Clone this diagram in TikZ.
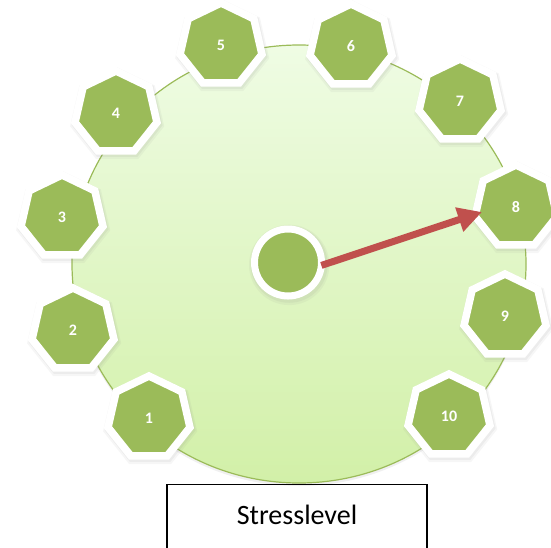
\documentclass[tikz,border=0pt]{standalone}
\usepackage{fontspec}
\setmainfont{Carlito}
\usetikzlibrary{shapes.geometric,arrows.meta,shadows}
\definecolor{hgreen}{HTML}{9BBB59}
\definecolor{arrred}{HTML}{C0504D}
\definecolor{bgtop}{HTML}{EFFCE4}
\definecolor{bgbot}{HTML}{D2F0A8}
\begin{document}
\begin{tikzpicture}[x=1pt,y=-1pt,
  hepta/.style={regular polygon, regular polygon sides=7, minimum size=84pt,
    inner sep=0pt, outer sep=0pt, fill=hgreen, draw=white, line width=7.5pt, text=white,
    font=\fontsize{16}{16}\selectfont\bfseries,
    drop shadow={opacity=0.07, shadow scale=1.15, shadow xshift=1pt, shadow yshift=-2pt},
    drop shadow={opacity=0.09, shadow scale=1.11, shadow xshift=1pt, shadow yshift=-1.5pt}},
  hub/.style={circle, minimum size=67pt, inner sep=0pt, outer sep=0pt, fill=hgreen,
    draw=white, line width=7pt,
    drop shadow={opacity=0.07, shadow scale=1.2, shadow xshift=1pt, shadow yshift=-2pt},
    drop shadow={opacity=0.09, shadow scale=1.15, shadow xshift=1pt, shadow yshift=-1.5pt}},
  pointer/.style={-{Triangle[length=24pt,width=24pt]}, line width=7pt, draw=arrred},
  titlebox/.style={draw=black, line width=1.2pt, anchor=north,
    minimum width=260pt, inner ysep=20pt, text height=20pt, text depth=40pt,
    font=\fontsize{28}{28}\selectfont}]
\useasboundingbox (0,0) rectangle (551,547);
\clip (0,0) rectangle (551,547);
% dial face
\draw[draw=hgreen, line width=1.2pt, top color=bgtop, bottom color=bgbot,
  drop shadow={opacity=0.12, shadow xshift=0pt, shadow yshift=-3pt}]
  (299,264) ellipse [x radius=227, y radius=219];
% level markers
\node[hepta] (h1) at (149,418) {1};
\node[hepta] (h2) at (73,330) {2};
\node[hepta] (h3) at (62,217) {3};
\node[hepta] (h4) at (116,113) {4};
\node[hepta] (h5) at (221,45) {5};
\node[hepta] (h6) at (351,46) {6};
\node[hepta] (h7) at (460,101) {7};
\node[hepta] (h8) at (516,207) {8};
\node[hepta] (h9) at (505,316) {9};
\node[hepta] (h10) at (449,416) {10};
% hub and pointer
\node[hub] (c) at (288,262.5) {};
\coordinate (tip) at (482,212);
\draw[pointer] (c.-5) -- (tip);
% title box
\node[titlebox] (box) at (297,484) {Stresslevel};
\end{tikzpicture}
\end{document}
